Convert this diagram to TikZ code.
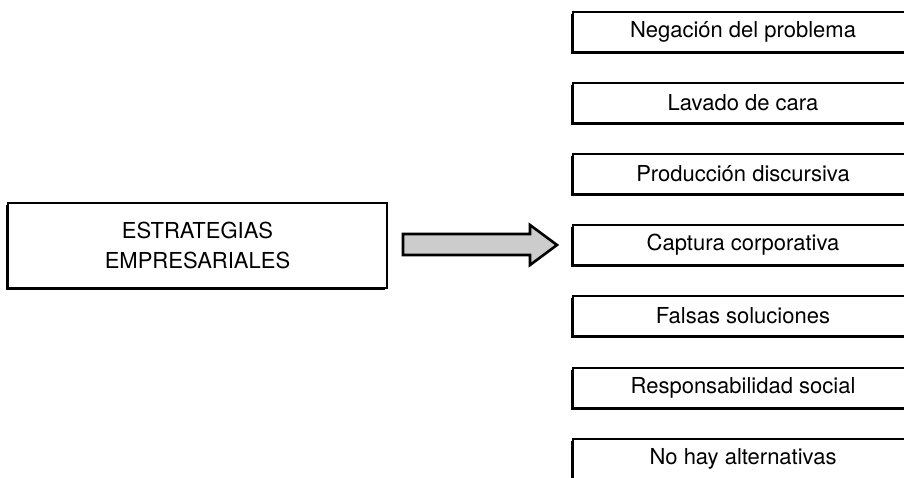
\documentclass[tikz,border=0pt]{standalone}
\usepackage{fontspec}
\setmainfont{TeX Gyre Heros}
\usepackage{tikz}
\usetikzlibrary{shadows,positioning}
\definecolor{arrow_gray}{RGB}{204,204,204}
\tikzset{
  caja/.style={draw,line width=2.6pt,fill=white,inner sep=0pt,
    drop shadow={shadow xshift=-1.8pt,shadow yshift=-1.6pt,opacity=1,fill=black},
    font=\fontsize{22}{30}\selectfont},
  estrategia/.style={caja,minimum width=340pt,minimum height=40pt},
}

\begin{document}
\begin{tikzpicture}[x=1pt,y=-1pt]
          \useasboundingbox (0,0) rectangle (904,478);
          \clip (0,0) rectangle (904,478);
          \node[caja,minimum width=379pt,minimum height=85pt,align=center] (est) at (197.5,245.5) {ESTRATEGIAS\\EMPRESARIALES};
          \draw[line width=2.6pt,fill=arrow_gray,line join=miter]
            (403,234) -- (530,234) -- (530,225) -- (557,245) -- (530,265) -- (530,255) -- (403,255) -- cycle;
          \node[estrategia] (neg) at (743,32) {Negación del problema};
          \node[estrategia] (lav) at (743,103) {Lavado de cara};
          \node[estrategia] (pro) at (743,174) {Producción discursiva};
          \node[estrategia] (cap) at (743,245) {Captura corporativa};
          \node[estrategia] (fal) at (743,316) {Falsas soluciones};
          \node[estrategia] (res) at (743,388) {Responsabilidad social};
          \node[estrategia] (alt) at (743,459) {No hay alternativas};
        \end{tikzpicture}
\end{document}
